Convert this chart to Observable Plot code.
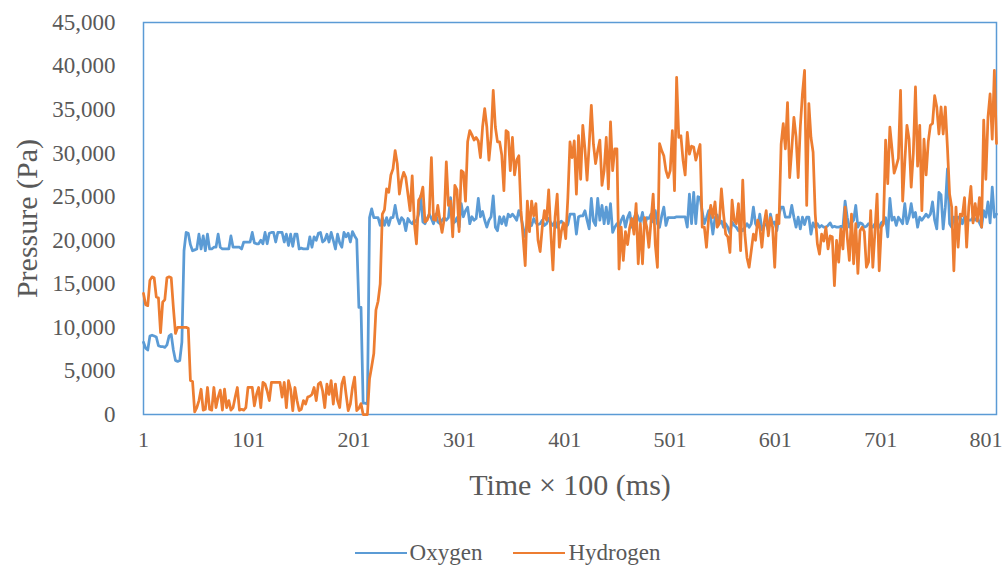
<!DOCTYPE html>
<html><head><meta charset="utf-8">
<script src="https://cdn.jsdelivr.net/npm/d3@7"></script>
<script src="https://cdn.jsdelivr.net/npm/@observablehq/plot@0.6"></script>
<style>
body{margin:0;background:#fff;font-family:"Liberation Serif","Times New Roman",serif;}
#chart svg, #chart svg text{font-family:"Liberation Serif","Times New Roman",serif !important;}
#legend{display:flex;justify-content:center;gap:31px;margin-top:26px;padding-left:12px;color:#595959;font-size:23px;line-height:24px;}
.item{display:flex;align-items:center}
.sw{width:52px;height:0;border-top:2.75px solid;margin-right:3px}
</style></head><body><div id="chart"></div><div id="legend"></div><script>
// one sample about every 2 time steps (×100 ms), starting at 1
const timeStart = 1, timeStep = 2.025;
const oxygen = [
 8300,7600,7400,9000,9100,9000,8900,7900,7800,7800,7700,8000,9000,9200,7400,6200,6100,6200,8300,18800,20900,20800,19500,
 18800,18900,19000,20700,19000,20500,18800,20700,19000,19000,19200,19200,20700,19200,19000,19000,19000,19000,20500,19200,19200,19200,19200,19000,19800,19800,19800,19800,
 20900,19700,19600,19600,20000,19600,20900,19600,20800,20900,
 20900,19800,20900,20900,20900,19800,20700,19400,20700,19300,
 20700,20700,19000,19100,19000,19000,19000,20400,19200,20400,
 20000,20800,20900,19800,20000,20700,19800,20900,20000,19000,
 20700,19700,19200,20900,20400,20800,19800,21000,20500,20100,
 12300,12300,1300,1300,1200,22600,23600,22600,22600,22600,
 21700,22600,21700,22600,21700,22600,22600,24000,22600,21900,
 22600,22300,21100,22500,22100,21900,22300,22100,23000,25100,
 22100,21900,22500,23000,22500,21900,23000,22100,21900,22300,
 22600,22300,22600,24900,21900,22100,22600,21500,24200,
 22700,23400,23800,21900,22700,22300,22500,24800,22700,23300,
 22300,21500,22300,22700,25100,21500,21100,22700,21900,22700,
 21700,23000,22700,23000,22700,22300,23400,22700,21500,20400,
 22000,22100,21700,22500,22000,21800,21900,22300,21700,21900,
 22500,22000,21700,22200,21500,22000,22200,21800,21500,21800,
 23000,23000,23000,20700,22700,22800,22800,23400,22300,21300,
 24800,22200,21700,24800,22300,24000,21900,23800,21900,24200,
 20900,21500,21900,21500,22300,22800,21500,22600,23200,21500,
 22500,23200,22600,22100,23200,21500,22600,22500,23000,22100,
 23400,21900,21500,22800,23800,21700,22600,22600,22600,22600,
 22700,22700,22700,22700,22700,21500,25300,21900,25500,21900,
 25000,24900,23300,21900,22600,23400,22600,20700,22600,22900,
 21900,22200,21500,21900,21500,20800,22100,21700,21500,21100,
 21400,21100,21500,21900,21500,21900,23800,21900,21500,23000,
 21200,21700,21900,21100,23000,21900,22100,21100,23000,23800,
 23800,22650,22650,22650,24000,22650,21500,22650,21300,22650,
 21800,22650,22650,20700,22000,21500,21900,21500,21700,21500,
 21500,21700,22000,21500,21600,21500,21500,21600,21500,24500,
 22650,21500,22000,22300,24000,21500,22000,21900,21500,21600,
 21900,21700,21500,21900,21700,21500,22000,22200,22600,20400,
 24800,22300,22650,21700,22650,22300,21900,24200,21900,22650,
 24200,22650,23200,21500,22650,22300,22650,23000,22650,23000,
 24400,22300,21300,25500,25200,21300,23800,28200,21900,21500,
 22650,21900,22650,22650,21900,22650,22650,22300,22300,22650,
 22300,22650,22000,21500,23400,22650,24400,22000,26100,22650,23000
];
const hydrogen = [
 13900,12600,12500,15400,15800,15700,13500,13400,9400,12900,13200,15700,15800,15700,12300,9300,10000,10000,10000,10000,10000,9900,3900,
 3800,300,800,1600,2900,500,600,3100,600,500,3100,800,2000,2800,500,2900,800,1600,500,800,2000,3100,500,600,500,800,3100,3100,
 3100,1000,2300,3100,800,3700,3500,2700,1600,3700,
 3700,3700,3700,3700,2000,3700,800,3900,2900,450,
 3100,1600,450,600,1600,1200,2000,2100,2300,3100,
 1600,3500,3700,2700,800,3500,2300,3900,1200,3500,
 1600,800,3500,4300,2300,450,1200,3100,4300,450,
 700,1250,0,0,0,4100,5500,7000,12000,13000,
 15000,23000,23500,25900,25500,27500,28200,30300,28800,25300,
 26900,27800,27200,25300,23400,27400,22000,19600,24600,25000,
 26100,22100,22300,23000,29500,22400,22300,24000,22300,20900,
 22400,29000,24000,24500,20400,26300,25800,21000,28000,
 27800,24500,31300,32600,32100,31500,31800,31400,29500,33000,
 35100,33000,29200,31800,37200,33000,31300,31300,29800,25700,
 32600,32400,28000,31800,27500,29200,29700,23400,20400,17100,
 24500,21000,24500,22800,24200,20000,18700,21500,23400,22300,
 25800,20900,16600,22700,25300,19200,21100,22000,20200,24900,
 31300,29500,31400,25300,32000,27000,33200,30500,26900,31000,
 35500,31000,28800,30300,31500,26300,28000,31800,25900,33600,
 28000,30500,30500,16700,21500,17700,21000,19500,21500,22500,
 20700,24200,17300,21900,17300,22600,21500,19200,22200,25300,
 19500,16900,31100,30300,29700,28000,27200,28000,32600,25700,
 38700,31800,32000,29200,27500,32400,29900,30800,30700,29200,
 30100,31000,21500,21500,19200,22500,24000,22600,24400,21500,
 21900,25900,23000,20700,20400,18600,24600,22300,21900,24200,
 18800,26900,20700,18000,16900,18800,20700,20000,22300,21500,
 19200,21900,23400,20500,22600,21500,16900,22900,21900,31000,
 33400,30500,35800,27200,30500,34100,31900,27200,33000,36800,
 39500,24000,35700,31800,30100,23000,19600,18400,20700,19900,
 21500,19000,20500,20400,14800,20000,17500,21300,19000,23800,
 20400,17700,23000,17300,21900,16200,21100,21500,21000,16900,
 17500,23400,16900,21000,25300,16500,21500,21900,31500,26500,
 33000,30500,27700,28500,29400,37200,24500,29000,33200,31600,
 26100,30000,37600,28500,33200,23400,31600,27500,31300,33200,
 33400,36600,35300,32200,35300,32200,35300,30600,25300,23800,
 16500,23800,19200,23000,22800,24900,19200,23800,26200,22000,
 24200,22200,24900,21500,33800,27000,34100,36800,31600,39500,31100
];
const seriesNames = ["Oxygen", "Hydrogen"];
const seriesColors = ["#5B9BD5", "#ED7D31"];
const xTicks = [1, 101, 201, 301, 401, 501, 601, 701, 801];
const yTicks = [0, 5000, 10000, 15000, 20000, 25000, 30000, 35000, 40000, 45000];
const xTitle = "Time × 100 (ms)";
const yTitle = "Pressure (Pa)";

const rows = [];
[oxygen, hydrogen].forEach((arr, k) => arr.forEach((v, i) => rows.push({t: timeStart + i * timeStep, v, s: seriesNames[k]})));

const serif = '"Liberation Serif","Times New Roman",serif';
const chart = Plot.plot({
  width: 1003, height: 515,
  marginTop: 22, marginBottom: 101, marginLeft: 143, marginRight: 7,
  x: {domain: [1, 811]},
  y: {domain: [0, 45000]},
  color: {domain: seriesNames, range: seriesColors},
  style: {fontFamily: serif, color: "#595959", background: "white"},
  marks: [
    Plot.axisY({ticks: yTicks, tickSize: 0, tickPadding: 28, fontSize: 23, fontFamily: serif, tickFormat: d3.format(","), label: null}),
    Plot.axisX({ticks: xTicks, tickSize: 0, tickPadding: 17, fontSize: 22, fontFamily: serif, tickFormat: d => String(d), label: null}),
    Plot.frame({stroke: "#5B9BD5", strokeWidth: 1.5}),
    Plot.lineY(rows, {x: "t", y: "v", stroke: "s", z: "s", strokeWidth: 2.75}),
    Plot.text([xTitle], {text: d => d, frameAnchor: "bottom", dy: 71, lineAnchor: "middle", textAnchor: "middle", fontSize: 30, fontFamily: serif, fill: "#595959"}),
    Plot.text([yTitle], {text: d => d, frameAnchor: "left", dx: -116, rotate: -90, textAnchor: "middle", lineAnchor: "middle", fontSize: 30, fontFamily: serif, fill: "#595959"})
  ]
});
document.getElementById("chart").appendChild(chart);

const lg = document.getElementById("legend");
seriesNames.forEach((n, k) => {
  const it = document.createElement("div"); it.className = "item";
  const sw = document.createElement("span"); sw.className = "sw"; sw.style.borderTopColor = seriesColors[k];
  const tx = document.createElement("span"); tx.textContent = n;
  it.appendChild(sw); it.appendChild(tx); lg.appendChild(it);
});
</script></body></html>
